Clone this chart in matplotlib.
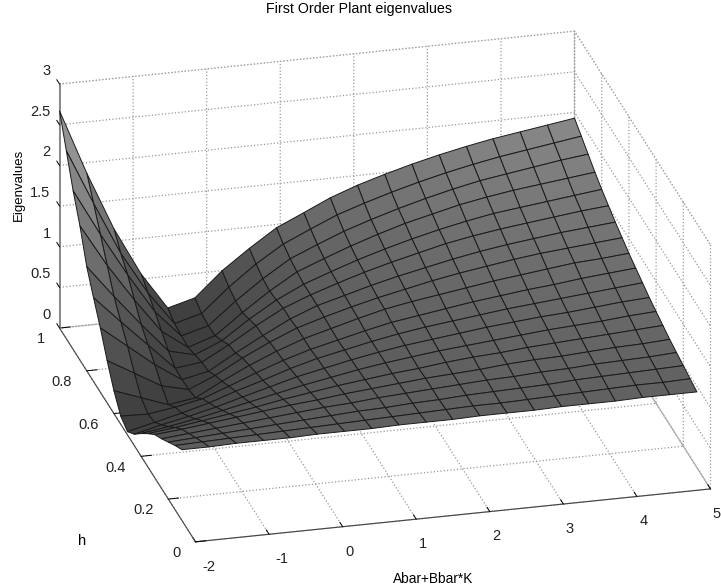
import matplotlib
matplotlib.use("Agg")
import matplotlib.pyplot as plt
from mpl_toolkits.mplot3d import proj3d
import numpy as np

plt.rcParams['font.family'] = ['Liberation Sans', 'DejaVu Sans']

title = "First Order Plant eigenvalues"
x_ticks = [-2, -1, 0, 1, 2, 3, 4, 5]
x_tick_labels = ["-2", "-1", "0", "1", "2", "3", "4", "5"]
h_ticks = [0, 0.2, 0.4, 0.6, 0.8, 1]
h_tick_labels = ["0", "0.2", "0.4", "0.6", "0.8", "1"]
z_ticks = [0, 0.5, 1, 1.5, 2, 2.5, 3]
z_tick_labels = ["0", "0.5", "1", "1.5", "2", "2.5", "3"]

# surface grid
abar = [-2, -1.63, -1.26, -0.89, -0.53, -0.16, 0.21, 0.58, 0.95, 1.32,
        1.68, 2.05, 2.42, 2.79, 3.16, 3.53, 3.89, 4.26, 4.63, 5]
h = [0.1, 0.15, 0.2, 0.25, 0.3, 0.35, 0.4, 0.45, 0.5, 0.55,
     0.6, 0.65, 0.7, 0.75, 0.8, 0.85, 0.9, 0.95, 1]

# eigenvalue per row of h
eig_h010 = [.87, .87, .88, .88, .88, .89, .89, .89, .90, .90, .90, .91, .91, .91, .92, .92, .92, .93, .93, .93]
eig_h015 = [.79, .80, .81, .82, .83, .84, .85, .86, .87, .88, .89, .90, .90, .91, .92, .93, .94, .95, .95, .96]
eig_h020 = [.70, .72, .74, .76, .78, .80, .82, .84, .85, .87, .88, .90, .91, .92, .93, .95, .96, .97, .98, .99]
eig_h025 = [.61, .64, .67, .70, .73, .76, .79, .81, .84, .86, .88, .90, .92, .93, .95, .96, .98, .99, 1.00, 1.02]
eig_h030 = [.53, .56, .60, .64, .68, .72, .75, .79, .82, .85, .88, .90, .92, .95, .97, .98, 1.00, 1.02, 1.03, 1.05]
eig_h035 = [.41, .45, .50, .55, .60, .66, .71, .76, .80, .84, .87, .91, .94, .96, .99, 1.01, 1.03, 1.05, 1.07, 1.09]
eig_h040 = [.28, .33, .39, .46, .53, .60, .67, .73, .79, .84, .88, .92, .95, .98, 1.01, 1.04, 1.06, 1.08, 1.11, 1.13]
eig_h045 = [.14, .22, .29, .37, .46, .55, .64, .71, .78, .84, .89, .93, .97, 1.01, 1.04, 1.07, 1.09, 1.12, 1.15, 1.17]
eig_h050 = [.04, .12, .20, .29, .40, .50, .61, .70, .77, .84, .90, .95, .99, 1.03, 1.07, 1.10, 1.13, 1.16, 1.19, 1.22]
eig_h055 = [.10, .09, .14, .21, .33, .46, .58, .68, .76, .84, .91, .96, 1.01, 1.06, 1.10, 1.14, 1.17, 1.21, 1.24, 1.27]
eig_h060 = [.28, .16, .04, .09, .26, .42, .56, .68, .77, .86, .94, 1.00, 1.05, 1.10, 1.15, 1.19, 1.23, 1.27, 1.29, 1.32]
eig_h065 = [.52, .33, .14, .06, .20, .38, .54, .68, .78, .87, .95, 1.02, 1.09, 1.15, 1.20, 1.25, 1.29, 1.32, 1.35, 1.38]
eig_h070 = [.79, .53, .27, .05, .12, .31, .49, .66, .79, .88, .97, 1.05, 1.12, 1.19, 1.25, 1.30, 1.34, 1.38, 1.41, 1.44]
eig_h075 = [1.03, .70, .38, .06, .10, .28, .48, .66, .79, .90, 1.00, 1.09, 1.17, 1.25, 1.31, 1.36, 1.40, 1.44, 1.48, 1.51]
eig_h080 = [1.28, .88, .50, .14, .06, .20, .43, .63, .79, .91, 1.02, 1.12, 1.21, 1.29, 1.36, 1.42, 1.46, 1.50, 1.54, 1.58]
eig_h085 = [1.65, 1.13, .67, .25, .02, .13, .38, .61, .81, .94, 1.06, 1.17, 1.27, 1.35, 1.43, 1.49, 1.54, 1.58, 1.62, 1.66]
eig_h090 = [1.95, 1.38, .85, .36, .03, .12, .39, .63, .84, .98, 1.11, 1.22, 1.32, 1.41, 1.49, 1.56, 1.61, 1.66, 1.71, 1.75]
eig_h095 = [2.31, 1.63, .98, .46, .05, .14, .43, .68, .89, 1.04, 1.18, 1.29, 1.39, 1.48, 1.56, 1.63, 1.69, 1.74, 1.79, 1.84]
eig_h100 = [2.67, 1.87, 1.15, .56, .11, .20, .50, .74, .96, 1.11, 1.26, 1.38, 1.48, 1.57, 1.65, 1.72, 1.78, 1.83, 1.88, 1.93]

Z = np.array([eig_h010, eig_h015, eig_h020, eig_h025, eig_h030, eig_h035, eig_h040,
              eig_h045, eig_h050, eig_h055, eig_h060, eig_h065, eig_h070, eig_h075,
              eig_h080, eig_h085, eig_h090, eig_h095, eig_h100])
X, Y = np.meshgrid(abar, h)

W, H = 721, 588
fig = plt.figure(figsize=(W / 100, H / 100), dpi=100)
# square axes in pixels, fitted so the box corners land where they do in the picture
side = 785.6
ax = fig.add_axes([-18.4 / W, -101.9 / H, side / W, side / H], projection='3d')
ax.set_proj_type('ortho')
ax.view_init(elev=23.7, azim=-104.34)
ax.set_box_aspect((531.6, 549, 266.5))
ax.patch.set_alpha(0)

ax.plot_surface(X, Y, Z, rstride=1, cstride=1, cmap='gray', vmin=-1.44, vmax=4.8,
                shade=False, edgecolor='#1a1a1a', linewidth=0.7, antialiased=True)

ax.set_xlim(-2, 5, view_margin=0)
ax.set_ylim(0, 1, view_margin=0)
ax.set_zlim(0, 3, view_margin=0)
ax.set_xticks(x_ticks)
ax.set_yticks(h_ticks)
ax.set_zticks(z_ticks)
ax.tick_params(axis='x', labelbottom=False)
ax.tick_params(axis='y', labelleft=False)
ax.tick_params(axis='z', labelleft=False)
# z ticks slant along the h direction in the picture
ax.zaxis._AXINFO['z']['tickdir'] = 1

for axis in (ax.xaxis, ax.yaxis, ax.zaxis):
    axis.pane.set_facecolor('white')
    axis.pane.set_edgecolor('#999999')
    axis.pane.set_linestyle(':')
    axis.pane.set_linewidth(0.9)
    axis.line.set_color('#444444')
    axis.line.set_linewidth(0.8)
    axis._axinfo['grid'].update(color='#999999', linestyle=':', linewidth=0.9)
    axis._axinfo['tick'].update(inward_factor=0, outward_factor=0.25, linewidth={True: 0.7, False: 0.7})
ax.zaxis.line.set_color('#888888')
ax.zaxis.line.set_linewidth(1.4)

# tick labels sit off the box edges like MATLAB's, so place them by hand
def tick_text(x, y, z, lab, ha):
    px, py, _ = proj3d.proj_transform(x, y, z, ax.get_proj())
    ax.text2D(px, py, lab, transform=ax.transData, ha=ha, va='center', fontsize=10.5, color='#222222')

for v, lab in zip(x_ticks, x_tick_labels):
    tick_text(v - 0.12, -0.112, 0, lab, 'center' if v >= 0 else 'left')
for v, lab in zip(h_ticks, h_tick_labels):
    tick_text(-2.282, v - 0.0424, 0, lab, 'right')
for v, lab in zip(z_ticks, z_tick_labels):
    tick_text(-2.01, 1.061, v, lab, 'right')

fig.text(359 / W, 1 - 9 / H, title, ha='center', va='center', fontsize=10.3)
fig.text(19 / W, 1 - 185 / H, "Eigenvalues", ha='center', va='center', rotation=90, fontsize=9.5)
fig.text(82 / W, 1 - 541 / H, "h", ha='center', va='center', fontsize=10.5)
fig.text(433 / W, 1 - 579 / H, "Abar+Bbar*K", ha='center', va='center', fontsize=9.8)

plt.savefig("out.png", dpi=100)
